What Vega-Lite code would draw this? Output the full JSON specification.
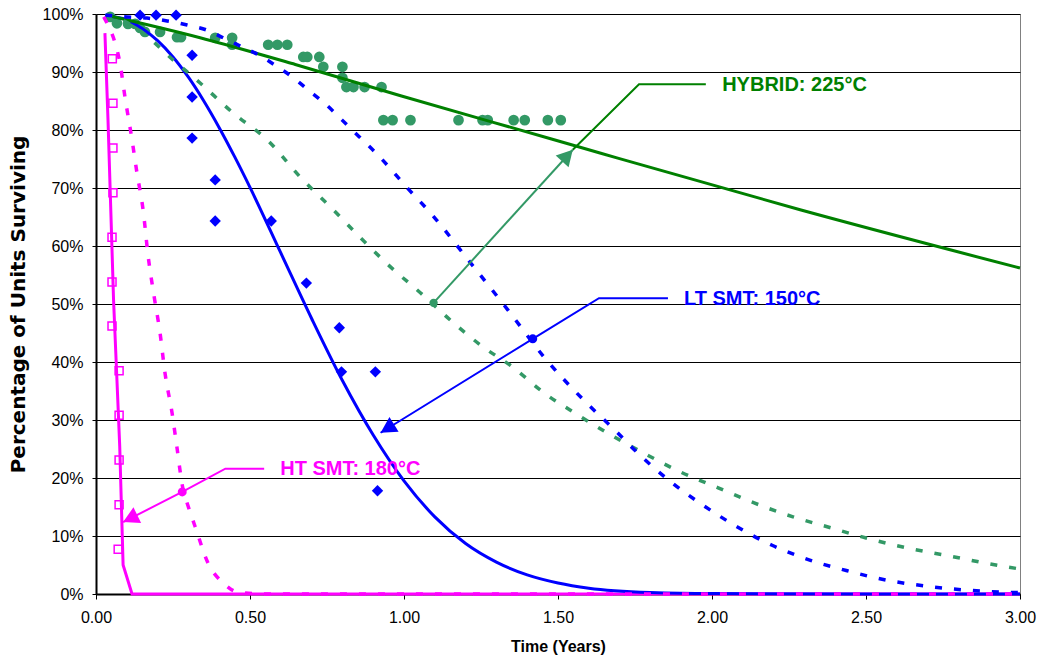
{
  "$schema": "https://vega.github.io/schema/vega-lite/v6.json",
  "width": 924,
  "height": 580,
  "autosize": {"type": "none"},
  "padding": {"left": 96, "top": 14, "right": 19, "bottom": 64},
  "background": "white",
  "config": {"view": {"stroke": "#808080", "strokeWidth": 1}, "font": "Liberation Sans"},
  "datasets": {
    "ht_pts": [
      {"x": 0.053, "y": 92.3}, {"x": 0.055, "y": 84.6}, {"x": 0.055, "y": 76.9}, {"x": 0.055, "y": 69.2},
      {"x": 0.052, "y": 61.5}, {"x": 0.052, "y": 53.8}, {"x": 0.052, "y": 46.2}, {"x": 0.075, "y": 38.5},
      {"x": 0.075, "y": 30.8}, {"x": 0.075, "y": 23.1}, {"x": 0.075, "y": 15.4}, {"x": 0.072, "y": 7.7}
    ],
    "lt_pts": [
      {"x": 0.143, "y": 99.8}, {"x": 0.195, "y": 99.8}, {"x": 0.26, "y": 99.8}, {"x": 0.312, "y": 92.9},
      {"x": 0.312, "y": 85.7}, {"x": 0.312, "y": 78.6}, {"x": 0.387, "y": 71.4}, {"x": 0.387, "y": 64.3},
      {"x": 0.569, "y": 64.3}, {"x": 0.683, "y": 53.6}, {"x": 0.79, "y": 45.9}, {"x": 0.797, "y": 38.3},
      {"x": 0.907, "y": 38.3}, {"x": 0.914, "y": 17.8}
    ],
    "hy_pts": [
      {"x": 0.046, "y": 99.5}, {"x": 0.068, "y": 98.4}, {"x": 0.104, "y": 98.3}, {"x": 0.127, "y": 98.3},
      {"x": 0.143, "y": 97.6}, {"x": 0.159, "y": 96.9}, {"x": 0.208, "y": 96.9}, {"x": 0.263, "y": 96.0},
      {"x": 0.276, "y": 96.0}, {"x": 0.387, "y": 95.9}, {"x": 0.442, "y": 95.9}, {"x": 0.442, "y": 94.7},
      {"x": 0.559, "y": 94.7}, {"x": 0.589, "y": 94.7}, {"x": 0.621, "y": 94.7}, {"x": 0.673, "y": 92.6},
      {"x": 0.686, "y": 92.6}, {"x": 0.725, "y": 92.6}, {"x": 0.738, "y": 90.9}, {"x": 0.8, "y": 90.9},
      {"x": 0.8, "y": 89.0}, {"x": 0.813, "y": 87.4}, {"x": 0.836, "y": 87.4}, {"x": 0.872, "y": 87.4},
      {"x": 0.927, "y": 87.4}, {"x": 0.933, "y": 81.7}, {"x": 0.963, "y": 81.7}, {"x": 1.021, "y": 81.7},
      {"x": 1.177, "y": 81.7}, {"x": 1.255, "y": 81.7}, {"x": 1.272, "y": 81.7}, {"x": 1.356, "y": 81.7},
      {"x": 1.392, "y": 81.7}, {"x": 1.467, "y": 81.7}, {"x": 1.509, "y": 81.7}
    ],
    "ht_fit": [
      {"x": 0.029, "y": 96.7}, {"x": 0.039, "y": 81.7}, {"x": 0.049, "y": 64.5}, {"x": 0.057, "y": 50.7},
      {"x": 0.068, "y": 36.9}, {"x": 0.077, "y": 25.5}, {"x": 0.088, "y": 5.0}, {"x": 0.117, "y": 0},
      {"x": 3.0, "y": 0}
    ],
    "lt_fit": [
      {"x": 0.03, "y": 99.7}, {"x": 0.1, "y": 99.0}, {"x": 0.15, "y": 97.5}, {"x": 0.2, "y": 95.4},
      {"x": 0.25, "y": 92.6}, {"x": 0.3, "y": 89.1}, {"x": 0.35, "y": 85.0}, {"x": 0.4, "y": 80.4},
      {"x": 0.45, "y": 75.4}, {"x": 0.5, "y": 70.1}, {"x": 0.6, "y": 58.8}, {"x": 0.7, "y": 47.5},
      {"x": 0.8, "y": 36.8}, {"x": 0.9, "y": 27.4}, {"x": 1.0, "y": 19.5}, {"x": 1.1, "y": 13.3},
      {"x": 1.2, "y": 8.7}, {"x": 1.3, "y": 5.5}, {"x": 1.4, "y": 3.3}, {"x": 1.5, "y": 1.9},
      {"x": 1.6, "y": 1.0}, {"x": 1.8, "y": 0.26}, {"x": 2.0, "y": 0.07}, {"x": 3.0, "y": 0}
    ],
    "hy_fit": [
      {"x": 0.05, "y": 99.6}, {"x": 0.338, "y": 95.9}, {"x": 0.647, "y": 91.3}, {"x": 0.989, "y": 85.9},
      {"x": 1.476, "y": 78.5}, {"x": 1.639, "y": 76.0}, {"x": 2.289, "y": 66.2}, {"x": 3.0, "y": 56.2}
    ],
    "ht_model": [
      {"x": 0.025, "y": 99.5}, {"x": 0.036, "y": 98.4}, {"x": 0.062, "y": 95.0}, {"x": 0.078, "y": 91.5},
      {"x": 0.094, "y": 85.7}, {"x": 0.117, "y": 78.3}, {"x": 0.133, "y": 72.6}, {"x": 0.153, "y": 66.2},
      {"x": 0.169, "y": 58.4}, {"x": 0.189, "y": 51.2}, {"x": 0.208, "y": 45.0}, {"x": 0.224, "y": 38.1},
      {"x": 0.247, "y": 31.2}, {"x": 0.263, "y": 25.2}, {"x": 0.28, "y": 18.8}, {"x": 0.3, "y": 15.0},
      {"x": 0.322, "y": 11.6}, {"x": 0.364, "y": 5.3}, {"x": 0.413, "y": 1.9}, {"x": 0.462, "y": 0.3},
      {"x": 0.55, "y": 0}, {"x": 3.0, "y": 0}
    ],
    "lt_model": [
      {"x": 0.03, "y": 99.8}, {"x": 0.101, "y": 99.5}, {"x": 0.166, "y": 99.3}, {"x": 0.231, "y": 98.8},
      {"x": 0.296, "y": 98.1}, {"x": 0.361, "y": 97.2}, {"x": 0.413, "y": 95.9}, {"x": 0.475, "y": 94.3},
      {"x": 0.533, "y": 92.8}, {"x": 0.589, "y": 90.9}, {"x": 0.641, "y": 89.0}, {"x": 0.689, "y": 86.9},
      {"x": 0.738, "y": 84.8}, {"x": 0.826, "y": 80.3}, {"x": 0.924, "y": 75.2}, {"x": 1.011, "y": 70.0},
      {"x": 1.086, "y": 65.7}, {"x": 1.216, "y": 57.1}, {"x": 1.337, "y": 49.0}, {"x": 1.454, "y": 40.9},
      {"x": 1.584, "y": 33.4}, {"x": 1.678, "y": 28.6}, {"x": 1.769, "y": 23.8}, {"x": 1.867, "y": 19.3},
      {"x": 1.974, "y": 15.2}, {"x": 2.081, "y": 11.6}, {"x": 2.195, "y": 8.4}, {"x": 2.315, "y": 5.9},
      {"x": 2.439, "y": 4.0}, {"x": 2.566, "y": 2.4}, {"x": 2.689, "y": 1.4}, {"x": 2.82, "y": 0.7},
      {"x": 2.95, "y": 0.3}, {"x": 3.0, "y": 0.25}
    ],
    "hy_model": [
      {"x": 0.03, "y": 99.7}, {"x": 0.09, "y": 98.8}, {"x": 0.153, "y": 96.7}, {"x": 0.25, "y": 92.1},
      {"x": 0.338, "y": 88.1}, {"x": 0.446, "y": 82.9}, {"x": 0.556, "y": 78.3}, {"x": 0.663, "y": 71.9},
      {"x": 0.771, "y": 66.2}, {"x": 0.859, "y": 61.4}, {"x": 0.956, "y": 56.4}, {"x": 1.054, "y": 51.9},
      {"x": 1.151, "y": 47.2}, {"x": 1.249, "y": 42.9}, {"x": 1.356, "y": 39.0}, {"x": 1.454, "y": 34.7},
      {"x": 1.564, "y": 30.9}, {"x": 1.672, "y": 27.4}, {"x": 1.785, "y": 24.1}, {"x": 1.899, "y": 21.0},
      {"x": 2.02, "y": 18.3}, {"x": 2.137, "y": 15.7}, {"x": 2.263, "y": 13.3}, {"x": 2.387, "y": 11.4},
      {"x": 2.511, "y": 9.5}, {"x": 2.637, "y": 7.9}, {"x": 2.767, "y": 6.6}, {"x": 2.891, "y": 5.3},
      {"x": 3.0, "y": 4.3}
    ],
    "ht_call": [
      {"o": 1, "x": 0.088, "y": 12.4}, {"o": 2, "x": 0.28, "y": 17.6}, {"o": 3, "x": 0.42, "y": 21.6}, {"o": 4, "x": 0.546, "y": 21.6}
    ],
    "lt_call": [
      {"o": 1, "x": 0.924, "y": 27.8}, {"o": 2, "x": 1.418, "y": 44.0}, {"o": 3, "x": 1.633, "y": 51.0}, {"o": 4, "x": 1.857, "y": 51.0}
    ],
    "hy_arrow": [
      {"o": 1, "x": 1.096, "y": 50.2}, {"o": 2, "x": 1.548, "y": 76.6}
    ],
    "hy_leader": [
      {"o": 1, "x": 1.548, "y": 76.6}, {"o": 2, "x": 1.763, "y": 87.9}, {"o": 3, "x": 1.98, "y": 87.9}
    ],
    "ht_dot": [{"x": 0.28, "y": 17.6}],
    "lt_dot": [{"x": 1.418, "y": 44.0}],
    "hy_dot": [{"x": 1.096, "y": 50.2}],
    "ht_tip": [{"x": 0.088, "y": 12.4}],
    "lt_tip": [{"x": 0.924, "y": 27.8}],
    "hy_tip": [{"x": 1.548, "y": 76.6}],
    "ht_label": [{"x": 0.598, "y": 21.5, "t": "HT SMT: 180°C"}],
    "lt_label": [{"x": 1.909, "y": 50.9, "t": "LT SMT: 150°C"}],
    "hy_label": [{"x": 2.033, "y": 87.8, "t": "HYBRID: 225°C"}]
  },
  "encoding": {
    "x": {
      "field": "x", "type": "quantitative",
      "scale": {"domain": [0, 3], "nice": false, "zero": false},
      "axis": {
        "values": [0, 0.5, 1, 1.5, 2, 2.5, 3], "format": ".2f",
        "title": "Time (Years)", "titleFont": "Liberation Sans", "titleFontWeight": "bold", "titleFontSize": 16,
        "titleColor": "black", "titlePadding": 13,
        "labelFont": "Liberation Sans", "labelFontSize": 16, "labelColor": "black", "labelPadding": 10,
        "labelFlush": false, "labelOverlap": false,
        "tickColor": "black", "tickSize": 5, "tickWidth": 1,
        "domainColor": "black", "domainWidth": 2, "grid": false
      }
    },
    "y": {
      "field": "y", "type": "quantitative",
      "scale": {"domain": [0, 100], "nice": false},
      "axis": {
        "values": [0, 10, 20, 30, 40, 50, 60, 70, 80, 90, 100],
        "labelExpr": "datum.value + '%'",
        "title": "Percentage of  Units Surviving", "titleFont": "DejaVu Sans", "titleFontWeight": "bold",
        "titleFontSize": 20, "titleColor": "black", "titlePadding": 14,
        "labelFont": "Liberation Sans", "labelFontSize": 16, "labelColor": "black", "labelPadding": 9,
        "labelFlush": false, "labelOverlap": false,
        "tickColor": "black", "tickSize": 4, "tickWidth": 1,
        "domainColor": "black", "domainWidth": 2,
        "grid": true, "gridColor": "black", "gridWidth": 1, "gridOpacity": 1
      }
    }
  },
  "layer": [
    {"data": {"name": "hy_pts"}, "mark": {"type": "point", "shape": "circle", "filled": true, "color": "#339966", "opacity": 1, "size": 115}},
    {"data": {"name": "lt_pts"}, "mark": {"type": "point", "shape": "diamond", "filled": true, "color": "#0000FF", "opacity": 1, "size": 130}},
    {"data": {"name": "ht_pts"}, "mark": {"type": "point", "shape": "square", "filled": false, "color": "#FF00FF", "opacity": 1, "size": 64, "strokeWidth": 1.5}},
    {"data": {"name": "ht_fit"}, "mark": {"type": "line", "color": "#FF00FF", "strokeWidth": 3}},
    {"data": {"name": "lt_fit"}, "mark": {"type": "line", "color": "#0000FF", "strokeWidth": 3, "interpolate": "monotone"}},
    {"data": {"name": "hy_fit"}, "mark": {"type": "line", "color": "#008000", "strokeWidth": 3, "interpolate": "monotone"}},
    {"data": {"name": "hy_model"}, "mark": {"type": "line", "color": "#339966", "strokeWidth": 3.5, "strokeDash": [7, 12], "interpolate": "monotone"}},
    {"data": {"name": "lt_model"}, "mark": {"type": "line", "color": "#0000FF", "strokeWidth": 3.5, "strokeDash": [7, 12], "interpolate": "monotone"}},
    {"data": {"name": "ht_model"}, "mark": {"type": "line", "color": "#FF00FF", "strokeWidth": 3.5, "strokeDash": [7, 12], "interpolate": "monotone"}},
    {"data": {"name": "ht_call"}, "mark": {"type": "line", "color": "#FF00FF", "strokeWidth": 2}, "encoding": {"order": {"field": "o"}}},
    {"data": {"name": "lt_call"}, "mark": {"type": "line", "color": "#0000FF", "strokeWidth": 2}, "encoding": {"order": {"field": "o"}}},
    {"data": {"name": "hy_arrow"}, "mark": {"type": "line", "color": "#339966", "strokeWidth": 2}, "encoding": {"order": {"field": "o"}}},
    {"data": {"name": "hy_leader"}, "mark": {"type": "line", "color": "#008000", "strokeWidth": 2}, "encoding": {"order": {"field": "o"}}},
    {"data": {"name": "ht_dot"}, "mark": {"type": "point", "shape": "circle", "filled": true, "color": "#FF00FF", "opacity": 1, "size": 80}},
    {"data": {"name": "lt_dot"}, "mark": {"type": "point", "shape": "circle", "filled": true, "color": "#0000FF", "opacity": 1, "size": 80}},
    {"data": {"name": "hy_dot"}, "mark": {"type": "point", "shape": "circle", "filled": true, "color": "#339966", "opacity": 1, "size": 70}},
    {"data": {"name": "ht_tip"}, "mark": {"type": "point", "shape": "M0,0L0.55,1L-0.55,1Z", "filled": true, "color": "#FF00FF", "opacity": 1, "size": 1000, "angle": 243.8}},
    {"data": {"name": "lt_tip"}, "mark": {"type": "point", "shape": "M0,0L0.55,1L-0.55,1Z", "filled": true, "color": "#0000FF", "opacity": 1, "size": 1000, "angle": 238.3}},
    {"data": {"name": "hy_tip"}, "mark": {"type": "point", "shape": "M0,0L0.55,1L-0.55,1Z", "filled": true, "color": "#339966", "opacity": 1, "size": 1000, "angle": 42.3}},
    {"data": {"name": "ht_label"}, "mark": {"type": "text", "align": "left", "baseline": "middle", "font": "Liberation Sans", "fontWeight": "bold", "fontSize": 20, "color": "#FF00FF"}, "encoding": {"text": {"field": "t"}}},
    {"data": {"name": "lt_label"}, "mark": {"type": "text", "align": "left", "baseline": "middle", "font": "Liberation Sans", "fontWeight": "bold", "fontSize": 20, "color": "#0000FF"}, "encoding": {"text": {"field": "t"}}},
    {"data": {"name": "hy_label"}, "mark": {"type": "text", "align": "left", "baseline": "middle", "font": "Liberation Sans", "fontWeight": "bold", "fontSize": 20, "color": "#008000"}, "encoding": {"text": {"field": "t"}}}
  ]
}
